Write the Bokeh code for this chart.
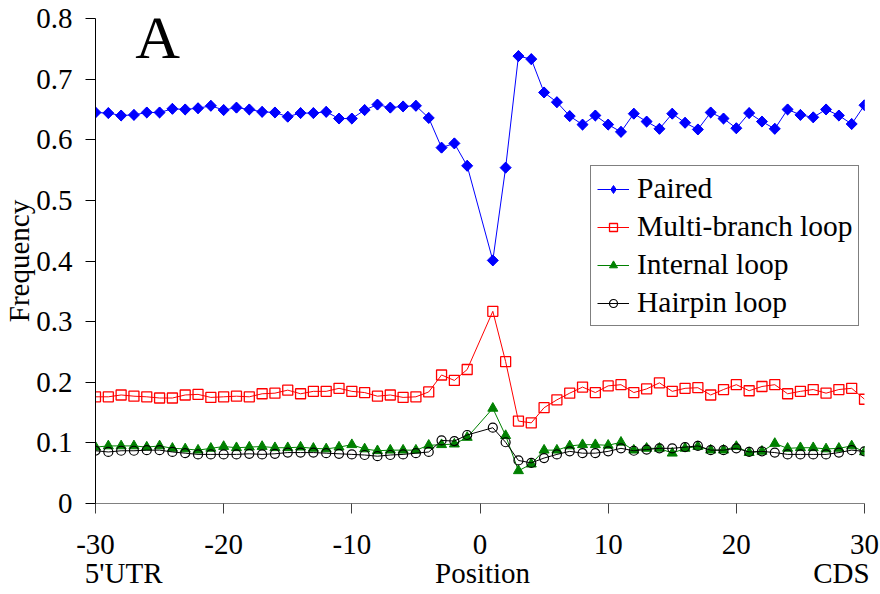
import numpy as np
from bokeh.plotting import figure
from bokeh.models import (Range1d, FixedTicker, Label, Legend, LegendItem,
                          CustomJSTickFormatter, LinearAxis)
from bokeh.embed import file_html
from bokeh.resources import INLINE

# ---------------- data ----------------
positions = list(range(-30, 0)) + list(range(1, 31))

paired = [0.645, 0.644, 0.640, 0.641, 0.645, 0.645, 0.651, 0.650, 0.652, 0.656,
          0.649, 0.653, 0.650, 0.646, 0.645, 0.638, 0.644, 0.644, 0.646, 0.635,
          0.635, 0.649, 0.658, 0.653, 0.655, 0.656, 0.636, 0.587, 0.594, 0.557,
          0.401, 0.554, 0.738, 0.733, 0.678, 0.662, 0.639, 0.625, 0.640, 0.625,
          0.613, 0.643, 0.630, 0.618, 0.643, 0.628, 0.617, 0.645, 0.635, 0.619,
          0.644, 0.630, 0.618, 0.650, 0.641, 0.637, 0.650, 0.640, 0.626, 0.657]

multi_branch = [0.176, 0.176, 0.179, 0.177, 0.176, 0.174, 0.174, 0.179, 0.180, 0.175,
                0.176, 0.177, 0.176, 0.181, 0.182, 0.187, 0.181, 0.185, 0.185, 0.190,
                0.185, 0.183, 0.177, 0.179, 0.175, 0.176, 0.184, 0.212, 0.203, 0.221,
                0.317, 0.234, 0.136, 0.133, 0.158, 0.171, 0.182, 0.192, 0.183, 0.194,
                0.196, 0.183, 0.189, 0.199, 0.185, 0.190, 0.191, 0.179, 0.188, 0.196,
                0.186, 0.193, 0.196, 0.181, 0.185, 0.188, 0.182, 0.188, 0.190, 0.172]

internal = [0.093, 0.095, 0.095, 0.095, 0.093, 0.095, 0.091, 0.090, 0.088, 0.091,
            0.094, 0.092, 0.093, 0.094, 0.092, 0.092, 0.093, 0.091, 0.090, 0.093,
            0.097, 0.090, 0.087, 0.088, 0.088, 0.088, 0.096, 0.097, 0.098, 0.109,
            0.157, 0.112, 0.054, 0.065, 0.088, 0.088, 0.095, 0.097, 0.097, 0.096,
            0.101, 0.088, 0.091, 0.091, 0.083, 0.091, 0.094, 0.088, 0.088, 0.094,
            0.084, 0.086, 0.099, 0.091, 0.092, 0.092, 0.090, 0.091, 0.095, 0.085]

hairpin = [0.087, 0.085, 0.087, 0.087, 0.088, 0.088, 0.085, 0.083, 0.081, 0.081,
           0.081, 0.081, 0.082, 0.081, 0.082, 0.084, 0.084, 0.084, 0.083, 0.082,
           0.081, 0.080, 0.078, 0.080, 0.081, 0.083, 0.085, 0.104, 0.103, 0.113,
           0.125, 0.101, 0.071, 0.067, 0.075, 0.081, 0.086, 0.083, 0.083, 0.086,
           0.091, 0.087, 0.089, 0.091, 0.091, 0.093, 0.095, 0.088, 0.088, 0.091,
           0.085, 0.086, 0.084, 0.081, 0.081, 0.081, 0.081, 0.084, 0.088, 0.086]

series_names = ["Paired", "Multi-branch loop", "Internal loop", "Hairpin loop"]
x_ticks = [-30, -20, -10, 0, 10, 20, 30]
y_ticks = [0.0, 0.1, 0.2, 0.3, 0.4, 0.5, 0.6, 0.7, 0.8]
region_labels = ["5'UTR", "Position", "CDS"]
region_x = [-27.8, 0.2, 28.2]

FONT = "Liberation Serif, serif"

p = figure(width=880, height=594, output_backend="svg", toolbar_location=None,
           x_range=Range1d(-30, 30), y_range=Range1d(0, 0.8),
           min_border_left=95, min_border_right=16, min_border_top=18,
           min_border_bottom=91)
p.outline_line_color = None
p.grid.visible = False
p.background_fill_color = "white"
p.border_fill_color = "white"

# x axis
xa = p.xaxis[0]
xa.ticker = FixedTicker(ticks=x_ticks)
xa.formatter = CustomJSTickFormatter(code="return tick.toFixed(0)")
xa.axis_line_color = "#808080"
xa.major_tick_line_color = "#404040"
xa.major_tick_out = 10
xa.major_tick_in = 0
xa.minor_tick_line_color = None
xa.major_label_text_font = FONT
xa.major_label_text_font_size = "29px"
xa.major_label_text_color = "black"
xa.major_label_standoff = 21

# second bottom axis carrying the region texts
xa2 = LinearAxis(ticker=FixedTicker(ticks=region_x),
                 formatter=CustomJSTickFormatter(
                     args=dict(xs=region_x, names=region_labels),
                     code="const i = xs.findIndex(v => Math.abs(v - tick) < 1e-6); return i >= 0 ? names[i] : '';"))
xa2.axis_line_color = None
xa2.major_tick_line_color = None
xa2.minor_tick_line_color = None
xa2.major_tick_out = 0
xa2.major_tick_in = 0
xa2.major_label_text_font = FONT
xa2.major_label_text_font_size = "29px"
xa2.major_label_text_color = "black"
xa2.major_label_standoff = 0
p.add_layout(xa2, "below")

# y axis
ya = p.yaxis[0]
ya.ticker = FixedTicker(ticks=y_ticks)
ya.formatter = CustomJSTickFormatter(code="return Math.abs(tick) < 1e-9 ? '0' : tick.toFixed(1)")
ya.axis_line_color = "black"
ya.major_tick_line_color = "black"
ya.major_tick_out = 10
ya.major_tick_in = 0
ya.minor_tick_line_color = None
ya.major_label_text_font = FONT
ya.major_label_text_font_size = "29px"
ya.major_label_text_color = "black"
ya.major_label_standoff = 13
ya.axis_label = "Frequency"
ya.axis_label_text_font = FONT
ya.axis_label_text_font_size = "29px"
ya.axis_label_text_font_style = "normal"
ya.axis_label_text_color = "black"
ya.axis_label_standoff = -2

# series
l1 = p.line(positions, paired, line_color="#0000ff", line_width=1)
# narrow diamond used as the legend glyph (fully covered by the markers below)
s1_leg = p.scatter(positions, paired, marker="diamond", size=10.5,
                   fill_color="#0000ff", line_color="#0000ff", line_width=1)
s1 = p.scatter(positions, paired, marker="square", angle=np.pi / 4, size=7.8,
               fill_color="#0000ff", line_color="#0000ff", line_width=1)
l2 = p.line(positions, multi_branch, line_color="#ff0000", line_width=1)
s2 = p.scatter(positions, multi_branch, marker="square", size=10,
               fill_color=None, line_color="#ff0000", line_width=1.3)
l3 = p.line(positions, internal, line_color="#008000", line_width=1)
s3 = p.scatter(positions, internal, marker="triangle", size=10,
               fill_color="#008000", line_color="#008000", line_width=1)
l4 = p.line(positions, hairpin, line_color="black", line_width=1)
s4 = p.scatter(positions, hairpin, marker="circle", size=9,
               fill_color=None, line_color="black", line_width=1.2)

legend = Legend(items=[
    LegendItem(label=series_names[0], renderers=[l1, s1_leg]),
    LegendItem(label=series_names[1], renderers=[l2, s2]),
    LegendItem(label=series_names[2], renderers=[l3, s3]),
    LegendItem(label=series_names[3], renderers=[l4, s4]),
], location=(495, 177))
legend.label_text_font = FONT
legend.label_text_font_size = "29.5px"
legend.label_text_color = "black"
legend.glyph_width = 32
legend.glyph_height = 20
legend.label_height = 30
legend.label_standoff = 8
legend.spacing = 5
legend.padding = 6
legend.margin = 0
legend.border_line_color = "black"
legend.border_line_width = 1
legend.background_fill_color = "white"
legend.background_fill_alpha = 1
p.add_layout(legend)

# panel letter
p.add_layout(Label(x=-25.15, y=0.770, text="A", text_font=FONT,
                   text_font_size="62px", text_align="center",
                   text_baseline="alphabetic", text_color="black"))

open("out.html", "w").write(file_html(p, INLINE))
